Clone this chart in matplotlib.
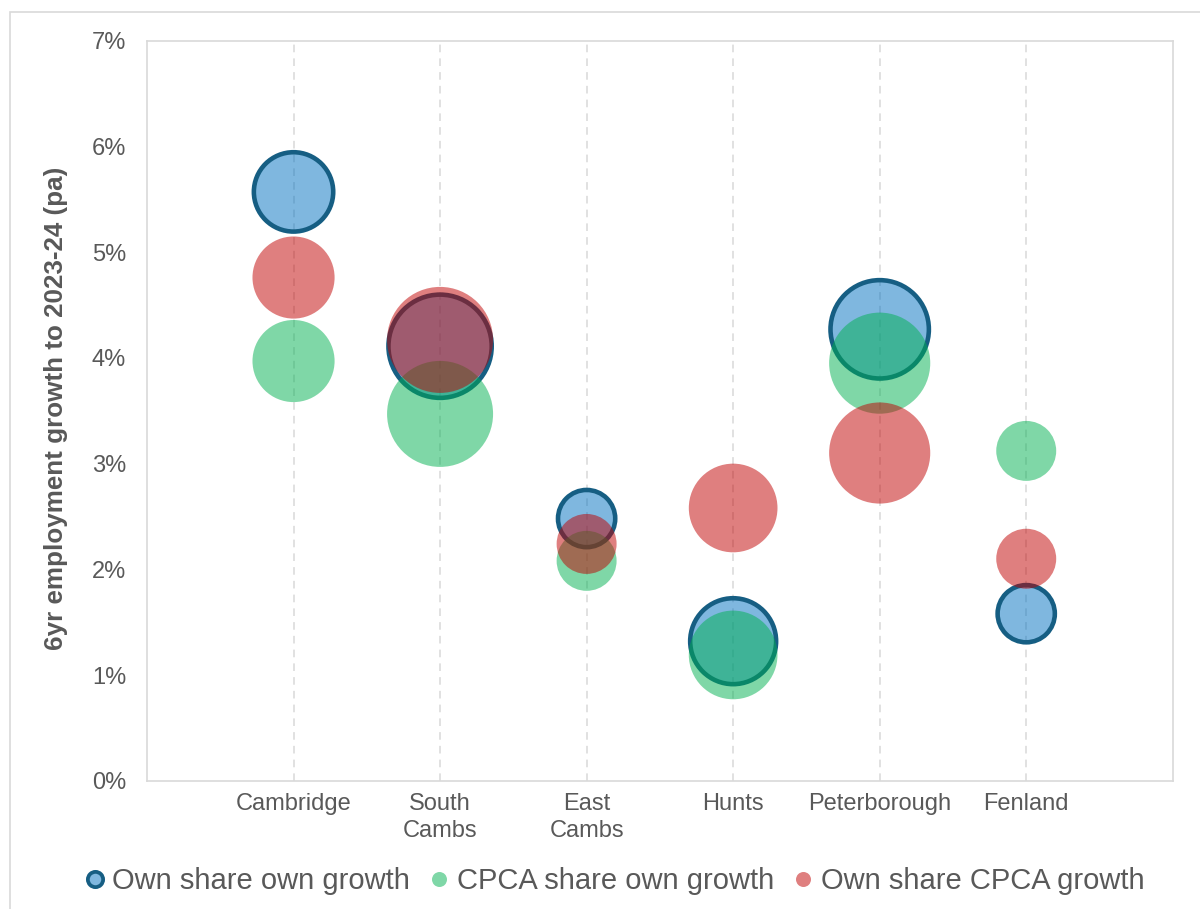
import matplotlib
matplotlib.use('Agg')
import matplotlib.pyplot as plt
from matplotlib.colors import to_rgba
from matplotlib.lines import Line2D
from matplotlib.patches import Rectangle
from matplotlib.ticker import FuncFormatter
import numpy as np

plt.rcParams['font.family'] = ['Liberation Sans', 'DejaVu Sans']

# districts along the x axis
districts = ['Cambridge', 'South\nCambs', 'East\nCambs', 'Hunts', 'Peterborough', 'Fenland']

# 6yr employment growth to 2023-24, % per annum
own_share_own_growth = [5.57, 4.11, 2.48, 1.32, 4.27, 1.58]
cpca_share_own_growth = [3.97, 3.47, 2.08, 1.19, 3.95, 3.12]
own_share_cpca_growth = [4.76, 4.17, 2.24, 2.58, 3.10, 2.10]

# relative bubble size (area) for each district
bubble_size = [60, 100, 32, 70, 91, 32]

series_labels = ['Own share own growth', 'CPCA share own growth', 'Own share CPCA growth']

BLUE = to_rgba('#0070C0', 0.5)
GREEN = to_rgba('#00B050', 0.5)
RED = to_rgba('#C00000', 0.5)
EDGE = '#165E83'
GREY_TEXT = '#595959'
GREY_LINE = '#D9D9D9'
EDGE_W = 3.3

fig = plt.figure(figsize=(12, 9.09), dpi=100)
ax = fig.add_axes([0.1225, 0.1411, 0.8548, 0.8141])

x = np.arange(1, len(districts) + 1)

# bubble area -> marker diameter in points, biggest bubble ~106 px across
max_diam_pt = 106 * 72 / 100
diam = max_diam_pt * np.sqrt(np.array(bubble_size) / max(bubble_size))
sizes = diam ** 2
# outlined bubbles shrink a little so the border stays about the same overall size
sizes_outlined = (diam - 0.6 * EDGE_W) ** 2

for xi in x:
    ax.axvline(xi, color=GREY_LINE, lw=1.1, dashes=(5, 4), zorder=1)

ax.scatter(x, own_share_own_growth, s=sizes_outlined, facecolor=BLUE,
           edgecolor=EDGE, linewidth=EDGE_W, zorder=2)
ax.scatter(x, cpca_share_own_growth, s=sizes, facecolor=GREEN,
           edgecolor='none', zorder=3)
ax.scatter(x, own_share_cpca_growth, s=sizes, facecolor=RED,
           edgecolor='none', zorder=4)

ax.set_xlim(0, 7)
ax.set_ylim(0, 7)
ax.set_yticks(np.arange(0, 8, 1))
ax.yaxis.set_major_formatter(FuncFormatter(lambda v, p: f'{v:.0f}%'))
ax.set_xticks(x)
ax.set_xticklabels(districts, linespacing=1.3)
ax.tick_params(axis='both', length=0, labelsize=17, labelcolor=GREY_TEXT)
ax.tick_params(axis='x', pad=9)
ax.tick_params(axis='y', pad=15)

for side in ax.spines.values():
    side.set_color(GREY_LINE)
    side.set_linewidth(1.2)

ax.set_ylabel('6yr employment growth to 2023-24 (pa)', fontsize=18.7,
              fontweight='bold', color=GREY_TEXT)
ax.yaxis.set_label_coords(-0.0775, 0.503)

handles = [
    Line2D([], [], ls='none', marker='o', ms=11, mfc=BLUE, mec=EDGE, mew=2.7),
    Line2D([], [], ls='none', marker='o', ms=10.8, mfc=GREEN, mec='none'),
    Line2D([], [], ls='none', marker='o', ms=10.8, mfc=RED, mec='none'),
]
leg = fig.legend(handles, series_labels, loc='center', bbox_to_anchor=(0.5125, 0.031),
                 ncol=3, frameon=False, fontsize=21, handlelength=0.6,
                 handletextpad=0.3, columnspacing=0.7, borderpad=0)
for t in leg.get_texts():
    t.set_color(GREY_TEXT)

# light border round the whole chart
fig.patches.append(Rectangle((10 / 1200, -0.05), 1.1, (909 - 12) / 909 + 0.05,
                             transform=fig.transFigure, fill=False,
                             edgecolor=GREY_LINE, linewidth=1.2))

fig.savefig('out.png', dpi=100)
